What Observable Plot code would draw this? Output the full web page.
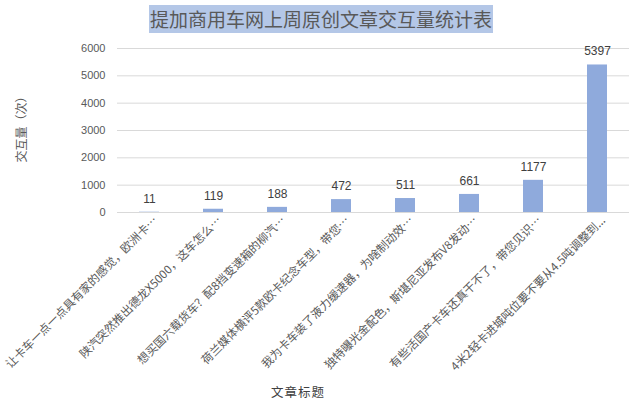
<!DOCTYPE html>
<html>
<head>
<meta charset="utf-8">
<script src="https://cdn.jsdelivr.net/npm/d3@7"></script>
<script src="https://cdn.jsdelivr.net/npm/@observablehq/plot@0.6"></script>
<style>
  html, body { margin: 0; padding: 0; background: #fff; }
  #wrap { position: relative; width: 640px; height: 409px; overflow: hidden; font-family: "Noto Sans CJK SC", sans-serif; }
  #titlebar { height: 40px; position: relative; }
  #title { position: absolute; left: 149px; top: 5px; width: 344px; height: 28px; background: #b4c7e7; color: #595959; font-size: 19px; line-height: 28px; text-align: center; white-space: nowrap; }
  #xtitle { position: absolute; left: 238px; top: 383px; width: 120px; text-align: center; font-size: 12.5px; letter-spacing: 1px; line-height: 18px; color: #404040; }
  #chart svg { display: block; overflow: visible; }
</style>
</head>
<body>
<div id="wrap">
  <div id="titlebar"><div id="title">提加商用车网上周原创文章交互量统计表</div></div>
  <div id="chart"></div>
  <div id="xtitle">文章标题</div>
</div>
<script>
const titles = [
  "让卡车一点一点具有家的感觉，欧洲卡…",
  "陕汽突然推出德龙X5000，这车怎么…",
  "想买国六载货车？配8挡变速箱的柳汽…",
  "荷兰媒体横评5款欧卡纪念车型，带您…",
  "我为卡车装了液力缓速器，为啥制动效…",
  "独特曝光金配色，斯堪尼亚发布V8发动…",
  "有些活国产卡车还真干不了，带您见识…",
  "4米2轻卡进城吨位要不要从4.5吨调整到..."
];
const values = [11, 119, 188, 472, 511, 661, 1177, 5397];
const yTicks = [0, 1000, 2000, 3000, 4000, 5000, 6000];
const yLabel = "交互量（次）";

const data = titles.map((t, i) => ({title: t, value: values[i]}));

const chart = Plot.plot({
  width: 640,
  height: 345,
  marginTop: 8,
  marginBottom: 173,
  marginLeft: 117,
  marginRight: 11,
  style: {fontFamily: "'Liberation Sans', 'Noto Sans CJK SC', sans-serif", fontSize: "11px", color: "#595959", background: "transparent"},
  x: {domain: titles, paddingInner: 0.6875, paddingOuter: 0.34375, axis: null},
  y: {domain: [0, 6000], label: null},
  marks: [
    Plot.gridY(yTicks, {stroke: "#d9d9d9", strokeOpacity: 1, strokeWidth: 1}),
    Plot.axisY(yTicks, {tickSize: 0, tickPadding: 12, tickFormat: d => String(d), fill: "#595959", fontSize: 11, label: null}),
    Plot.text([yLabel], {frameAnchor: "left", rotate: -90, dx: -95, dy: 32, fontSize: 12, fill: "#595959",
      fontFamily: "'Noto Sans CJK SC', sans-serif"}),
    Plot.barY(data, {x: "title", y: "value", fill: "#8faadc"}),
    Plot.text(data, {x: "title", y: "value", text: d => String(d.value), dy: -13.5, fill: "#404040", fontSize: 12}),
    Plot.text(data, {x: "title", y: d => 0, text: "title", rotate: -45, textAnchor: "end", lineAnchor: "middle",
      dx: 6, dy: 6, fill: "#595959", fontSize: 11.6, fontFamily: "'Noto Sans CJK SC', sans-serif"})
  ]
});
document.getElementById("chart").appendChild(chart);
</script>
</body>
</html>
